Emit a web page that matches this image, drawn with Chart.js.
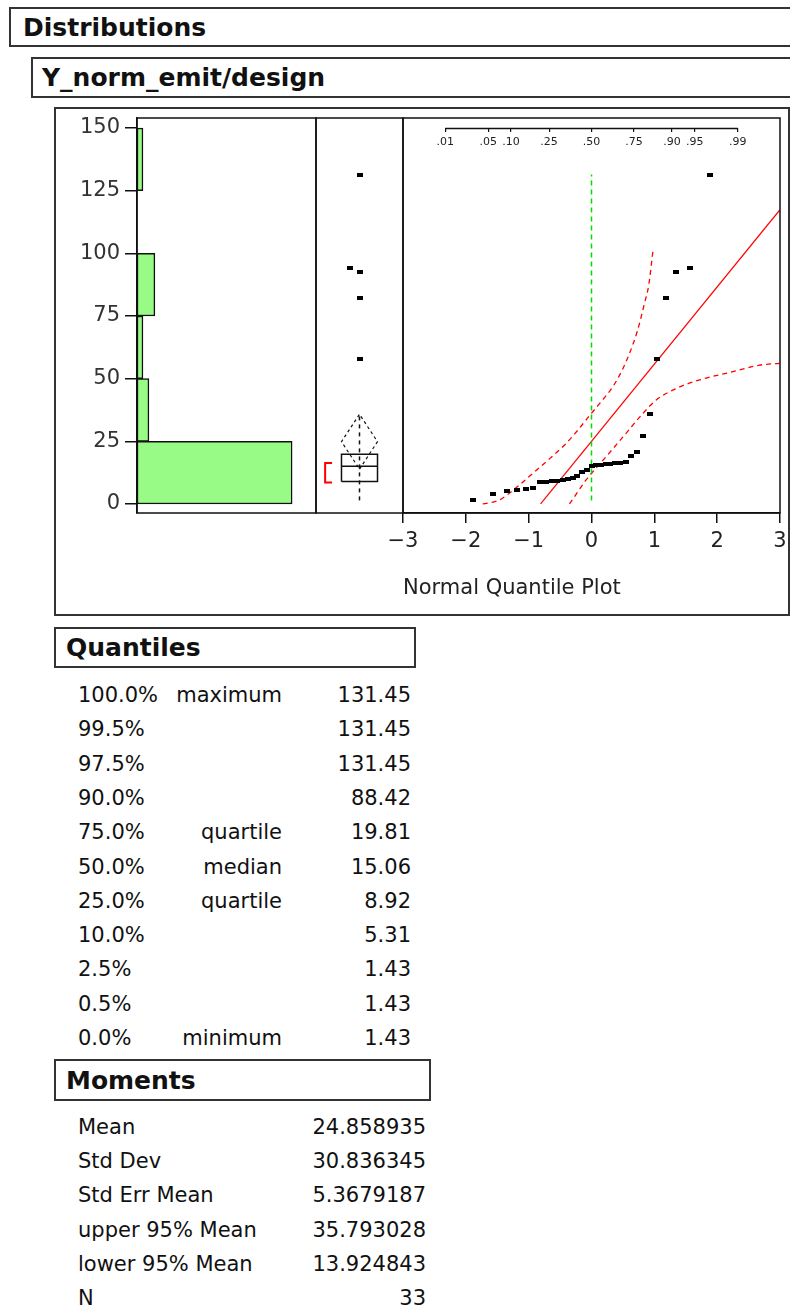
<!DOCTYPE html>
<html>
<head>
<meta charset="utf-8">
<script src="https://cdn.jsdelivr.net/npm/chart.js@4.4.1/dist/chart.umd.min.js"></script>
<style>
body { margin:0; background:#fff; font-family:'DejaVu Sans', sans-serif; color:#111; overflow:hidden; width:790px; height:1308px; position:relative; }
.hdr { position:absolute; border:2px solid #333; background:#fff; font-weight:bold; font-size:25px; box-sizing:border-box; display:flex; align-items:center; white-space:nowrap; }
.frame { position:absolute; border:2px solid #333; box-sizing:border-box; }
canvas { position:absolute; }
.row { position:absolute; font-size:21px; height:34px; line-height:34px; white-space:nowrap; color:#111; }
</style>
</head>
<body>
<div class="hdr" style="left:9px;top:7px;width:800px;height:40px;padding-left:12px;">Distributions</div>
<div class="hdr" style="left:31px;top:57px;width:800px;height:41px;padding-left:9px;">Y_norm_emit/design</div>
<div class="frame" style="left:54px;top:107px;width:736px;height:509px;"></div>
<canvas id="hist" width="296" height="435" style="left:40px;top:98px;"></canvas>
<canvas id="box" width="127" height="435" style="left:296px;top:98px;"></canvas>
<canvas id="nqp" width="420" height="515" style="left:373px;top:98px;"></canvas>
<div class="hdr" style="left:54px;top:627px;width:362px;height:41px;padding-left:10px;">Quantiles</div>
<div class="hdr" style="left:54px;top:1059px;width:377px;height:42px;padding-left:10px;">Moments</div>
<script>
const values = [1.43, 4.0, 5.01, 5.75, 5.9, 6.3, 8.6, 8.75, 9.09, 9.3, 9.6, 10.0, 10.3, 11.3, 12.6, 13.6, 15.06,
  15.4, 15.7, 16.0, 16.1, 16.2, 16.3, 16.9, 18.95, 20.67, 27.2, 35.9, 57.8, 82.0, 92.7, 94.0, 131.45];

// histogram
const binEdges = [0, 25, 50, 75, 100, 125, 150];
const binCounts = [26, 2, 1, 3, 0, 1];
const yTicks = [0, 25, 50, 75, 100, 125, 150];

// quantiles table
const quantLevels = ['100.0%', '99.5%', '97.5%', '90.0%', '75.0%', '50.0%', '25.0%', '10.0%', '2.5%', '0.5%', '0.0%'];
const quantNames = ['maximum', '', '', '', 'quartile', 'median', 'quartile', '', '', '', 'minimum'];
const quantValues = [131.45, 131.45, 131.45, 88.42, 19.81, 15.06, 8.92, 5.31, 1.43, 1.43, 1.43];

// moments table
const momentNames = ['Mean', 'Std Dev', 'Std Err Mean', 'upper 95% Mean', 'lower 95% Mean', 'N'];
const momentValues = ['24.858935', '30.836345', '5.3679187', '35.793028', '13.924843', '33'];

// normal quantile plot
const zTicks = [-3, -2, -1, 0, 1, 2, 3];
const probLevels = [0.01, 0.05, 0.10, 0.25, 0.50, 0.75, 0.90, 0.95, 0.99];
const probLabels = ['.01', '.05', '.10', '.25', '.50', '.75', '.90', '.95', '.99'];
const fitZ = [-0.81, 3.0];
const fitV = [0, 117.4];
const upperBandZ = [-1.73, -1.465, -1.2, -0.935, -0.67, -0.403, -0.2, 0, 0.17, 0.34, 0.48, 0.605, 0.73, 0.844, 0.912, 0.976];
const upperBandV = [0, 1.6, 6.5, 12.2, 18.0, 24.2, 30.0, 36.2, 41.3, 46.8, 53.0, 60.1, 69.0, 80.1, 87.5, 100.6];
const lowerBandZ = [-0.35, -0.085, 0.234, 0.55, 0.8, 1.03, 1.35, 1.72, 2.25, 2.675, 2.99];
const lowerBandV = [0, 9.6, 18.9, 28.2, 35.6, 41.5, 46.1, 49.5, 52.8, 55.4, 56.1];

const mean = 24.858935, upper95 = 35.793028, lower95 = 13.924843;
const probAxisAt = 150;

Chart.defaults.font.family = "'DejaVu Sans', sans-serif";
Chart.defaults.color = '#222';
Chart.defaults.animation = false;

function invNorm(p) {
  const a = [-39.69683028665376, 220.9460984245205, -275.9285104469687, 138.3577518672690, -30.66479806614716, 2.506628277459239];
  const b = [-54.47609879822406, 161.5858368580409, -155.6989798598866, 66.80131188771972, -13.28068155288572];
  const c = [-0.007784894002430293, -0.3223964580411365, -2.400758277161838, -2.549732539343734, 4.374664141464968, 2.938163982698783];
  const d = [0.007784695709041462, 0.3224671290700398, 2.445134137142996, 3.754408661907416];
  const pl = 0.02425;
  let q, r;
  if (p < pl) {
    q = Math.sqrt(-2 * Math.log(p));
    return (((((c[0]*q+c[1])*q+c[2])*q+c[3])*q+c[4])*q+c[5]) / ((((d[0]*q+d[1])*q+d[2])*q+d[3])*q+1);
  }
  if (p > 1 - pl) {
    q = Math.sqrt(-2 * Math.log(1 - p));
    return -(((((c[0]*q+c[1])*q+c[2])*q+c[3])*q+c[4])*q+c[5]) / ((((d[0]*q+d[1])*q+d[2])*q+d[3])*q+1);
  }
  q = p - 0.5; r = q * q;
  return (((((a[0]*r+a[1])*r+a[2])*r+a[3])*r+a[4])*r+a[5])*q / (((((b[0]*r+b[1])*r+b[2])*r+b[3])*r+b[4])*r+1);
}

// table rows
function addCell(y, text, left, right) {
  const d = document.createElement('div');
  d.className = 'row';
  d.textContent = text;
  d.style.top = (y - 17) + 'px';
  if (left != null) d.style.left = left + 'px';
  else d.style.right = (790 - right) + 'px';
  document.body.appendChild(d);
}
quantLevels.forEach((lv, i) => {
  const y = 695 + i * 34.3;
  addCell(y, lv, 78, null);
  if (quantNames[i]) addCell(y, quantNames[i], null, 282);
  addCell(y, quantValues[i].toFixed(2), null, 411);
});
momentNames.forEach((nm, i) => {
  const y = 1127 + i * 34.2;
  addCell(y, nm, 78, null);
  addCell(y, momentValues[i], null, 426);
});

// small black rectangle used as a marker
const mark = document.createElement('canvas');
mark.width = 6; mark.height = 4;
const mctx = mark.getContext('2d');
mctx.fillStyle = '#000';
mctx.fillRect(0, 0, 6, 4);

const framePlugin = {
  id: 'frame',
  afterDraw(chart) {
    const a = chart.chartArea, ctx = chart.ctx;
    ctx.save();
    ctx.strokeStyle = '#111';
    ctx.lineWidth = 1.5;
    ctx.strokeRect(a.left, a.top, a.right - a.left, a.bottom - a.top);
    ctx.restore();
  }
};

const noPlugins = { legend: { display: false }, tooltip: { enabled: false } };

// HISTOGRAM
new Chart(document.getElementById('hist'), {
  type: 'bar',
  data: {
    datasets: [{
      data: binCounts.map((c, i) => ({ x: c, y: (binEdges[i] + binEdges[i + 1]) / 2 })),
      backgroundColor: 'rgb(152, 251, 133)',
      borderColor: '#111',
      borderWidth: 1.5,
      borderSkipped: false,
      barPercentage: 1,
      categoryPercentage: 1
    }]
  },
  options: {
    indexAxis: 'y',
    responsive: false,
    layout: { padding: { left: 15, right: 20, top: 20, bottom: 20 } },
    plugins: noPlugins,
    scales: {
      x: { type: 'linear', min: 0, max: 30, display: false },
      y: {
        type: 'linear', min: -3.6, max: 154, offset: false, position: 'left',
        afterBuildTicks: s => { s.ticks = yTicks.map(v => ({ value: v })); },
        afterFit: s => { s.width = 82; },
        grid: { drawOnChartArea: false, tickLength: 12, color: '#111', lineWidth: 1.5, offset: false },
        border: { display: true, color: '#111', width: 1.5 },
        ticks: { font: { size: 21 }, color: '#333', padding: 5 }
      }
    }
  },
  plugins: [framePlugin]
});

// OUTLIER BOX PLOT
const q3 = quantValues[4], med = quantValues[5], q1 = quantValues[6];
const iqr = q3 - q1;
const hiFence = q3 + 1.5 * iqr, loFence = q1 - 1.5 * iqr;
const inside = values.filter(v => v >= loFence && v <= hiFence);
const whiskLo = Math.min(...inside), whiskHi = Math.max(...inside);
const outliers = values.filter(v => v > hiFence || v < loFence);
const outPts = outliers.map((v, i) => ({ x: (i > 0 && v - outliers[i - 1] < 3) ? -0.22 : 0, y: v }));
const k = Math.ceil(values.length / 2);
let best = [values[0], values[k - 1]];
for (let i = 0; i + k - 1 < values.length; i++) {
  if (values[i + k - 1] - values[i] < best[1] - best[0]) best = [values[i], values[i + k - 1]];
}
const hw = 0.414;

const lineDs = (data, color, width, dash) => ({
  data, showLine: true, pointRadius: 0, borderColor: color, borderWidth: width, borderDash: dash || [], fill: false
});

new Chart(document.getElementById('box'), {
  type: 'scatter',
  data: {
    datasets: [
      { data: outPts, pointStyle: mark, pointRadius: 3 },
      lineDs([{ x: -hw, y: q1 }, { x: hw, y: q1 }, { x: hw, y: q3 }, { x: -hw, y: q3 }, { x: -hw, y: q1 }], '#111', 1.5),
      lineDs([{ x: -hw, y: med }, { x: hw, y: med }], '#111', 1.5),
      lineDs([{ x: 0, y: lower95 }, { x: hw, y: mean }, { x: 0, y: upper95 }, { x: -hw, y: mean }, { x: 0, y: lower95 }], '#111', 1.2, [3, 3]),
      lineDs([{ x: 0, y: whiskLo }, { x: 0, y: whiskHi }], '#111', 1.5, [4, 4]),
      lineDs([{ x: -0.63, y: best[0] }, { x: -0.79, y: best[0] }, { x: -0.79, y: best[1] }, { x: -0.63, y: best[1] }], '#ff0000', 2)
    ]
  },
  options: {
    responsive: false,
    layout: { padding: 20 },
    plugins: noPlugins,
    scales: {
      x: { type: 'linear', min: -1, max: 1, display: false },
      y: { type: 'linear', min: -3.6, max: 154, display: false }
    }
  },
  plugins: [framePlugin]
});

// NORMAL QUANTILE PLOT
const n = values.length;
const nqPts = values.map((v, i) => ({ x: invNorm((i + 1) / (n + 1)), y: v }));
const zip = (xs, ys) => xs.map((x, i) => ({ x, y: ys[i] }));

const probLine = {
  id: 'probLine',
  afterDraw(chart) {
    const p = chart.scales.p, y = chart.scales.y, ctx = chart.ctx;
    const yy = Math.round(y.getPixelForValue(probAxisAt)) + 0.5;
    ctx.save();
    ctx.strokeStyle = '#111';
    ctx.lineWidth = 1.5;
    ctx.beginPath();
    ctx.moveTo(p.getPixelForValue(invNorm(probLevels[0])), yy);
    ctx.lineTo(p.getPixelForValue(invNorm(probLevels[probLevels.length - 1])), yy);
    ctx.stroke();
    ctx.restore();
  }
};

new Chart(document.getElementById('nqp'), {
  type: 'scatter',
  data: {
    datasets: [
      { data: nqPts, pointStyle: mark, pointRadius: 3, xAxisID: 'x' },
      Object.assign(lineDs([{ x: 0, y: values[0] }, { x: 0, y: values[n - 1] }], '#00dd00', 1.5, [5, 4]), { xAxisID: 'x' }),
      Object.assign(lineDs(zip(fitZ, fitV), '#ff0000', 1.2), { xAxisID: 'x' }),
      Object.assign(lineDs(zip(upperBandZ, upperBandV), '#ff0000', 1.3, [5, 4]), { xAxisID: 'x', cubicInterpolationMode: 'monotone' }),
      Object.assign(lineDs(zip(lowerBandZ, lowerBandV), '#ff0000', 1.3, [5, 4]), { xAxisID: 'x', cubicInterpolationMode: 'monotone' })
    ]
  },
  options: {
    responsive: false,
    layout: { padding: { left: 30, right: 13, top: 20, bottom: 5 } },
    plugins: noPlugins,
    scales: {
      x: {
        type: 'linear', min: -3, max: 3, position: 'bottom',
        afterBuildTicks: s => { s.ticks = zTicks.map(v => ({ value: v })); },
        afterFit: s => { s.height = 95; },
        grid: { drawOnChartArea: false, tickLength: 10, color: '#111', lineWidth: 1.5 },
        border: { display: true, color: '#111', width: 1.5 },
        ticks: {
          font: { size: 21 }, color: '#222', padding: 6, maxRotation: 0, autoSkip: false,
          callback: v => v < 0 ? '\u2212' + Math.abs(v) : String(v)
        },
        title: {
          display: true, text: 'Normal Quantile Plot', align: 'start',
          font: { size: 21 }, color: '#222', padding: { top: 0, bottom: 7 }
        }
      },
      p: {
        type: 'linear', axis: 'x', min: -3, max: 3, position: { y: probAxisAt },
        afterBuildTicks: s => { s.ticks = probLevels.map(p => ({ value: invNorm(p) })); },
        grid: { drawOnChartArea: false, tickLength: 4, color: '#111', lineWidth: 1.2 },
        border: { display: false },
        ticks: {
          font: { size: 11 }, color: '#222', padding: 4, maxRotation: 0, autoSkip: false,
          callback: (v, i) => probLabels[i]
        }
      },
      y: { type: 'linear', min: -3.6, max: 154, display: false }
    }
  },
  plugins: [framePlugin, probLine]
});
</script>
</body>
</html>
